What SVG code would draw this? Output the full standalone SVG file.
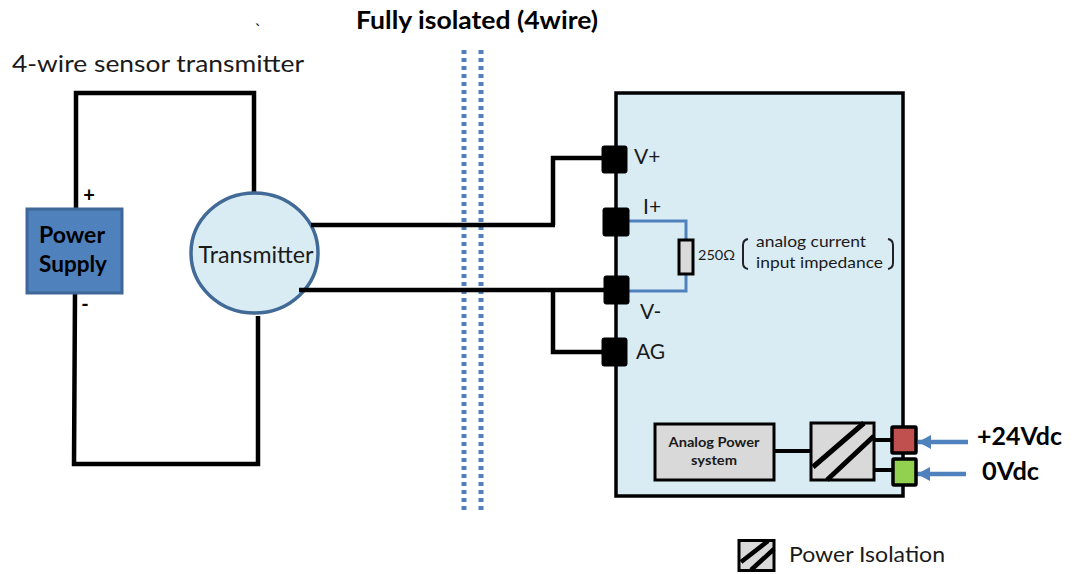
<svg xmlns="http://www.w3.org/2000/svg" width="1072" height="574" viewBox="0 0 1072 574">
<defs>
<marker id="ah" viewBox="0 0 13 14" refX="13" refY="7" markerUnits="userSpaceOnUse" markerWidth="13" markerHeight="14" orient="auto"><path d="M0 0L13 7L0 14z" fill="#4f81bd"/></marker>
</defs>
<style>
text{font-family:"Lato","Noto Sans","Liberation Sans",sans-serif;fill:#1a1a1a}
.b{font-weight:700;fill:#000}
.w{fill:none;stroke:#000;stroke-width:4.500;stroke-linejoin:miter}
.t{fill:#000;stroke:#000;stroke-width:1;}
.blue{fill:none;stroke:#4f81bd;stroke-width:3}
.dot{fill:none;stroke:#4f81bd;stroke-width:5;stroke-dasharray:4 4}
.grey{fill:#d9d9d9;stroke:#000;stroke-width:3}
</style>
<rect width="1072" height="574" fill="#fff"/>
<g id="module">
<rect x="616" y="93" width="287" height="403" fill="#daecf3" stroke="#000" stroke-width="3.500"/>
</g>
<g id="connectors">
<path class="w" d="M76 208V93H254V194"/>
<path class="w" d="M75 293L74 464H258V316"/>
<path class="w" d="M553 225V158H602"/>
<path class="w" d="M553 290V352H602"/>
<path class="blue" d="M628 221H686V240"/>
<path class="blue" d="M628 291H686V274"/>
<path d="M775 451H811" fill="none" stroke="#000" stroke-width="4"/>
<path d="M875 440H892M875 470H892" fill="none" stroke="#000" stroke-width="4"/>
<path d="M968 442H918" fill="none" stroke="#4f81bd" stroke-width="4.500" marker-end="url(#ah)"/>
<path d="M966 474H917" fill="none" stroke="#4f81bd" stroke-width="4.500" marker-end="url(#ah)"/>
</g>
<g id="isolation-barrier">
<path class="dot" d="M464 50V510"/>
<path class="dot" d="M481 50V510"/>
</g>
<g id="power-supply">
<rect x="27" y="209" width="95" height="84" fill="#4f81bd" stroke="#3f6797" stroke-width="3"/>
<text class="b" x="72" y="243" font-size="22" text-anchor="middle" textLength="66" lengthAdjust="spacingAndGlyphs">Power</text>
<text class="b" x="73" y="272" font-size="22" text-anchor="middle" textLength="68" lengthAdjust="spacingAndGlyphs">Supply</text>
</g>
<text class="b" x="89" y="202" font-size="20" text-anchor="middle">+</text>
<text class="b" x="85" y="311" font-size="20" text-anchor="middle">-</text>
<g id="transmitter">
<ellipse cx="254.500" cy="253" rx="63.500" ry="60" fill="#daecf3" stroke="#426a97" stroke-width="3.500"/>
<text x="256" y="263" font-size="24" text-anchor="middle" textLength="115" lengthAdjust="spacingAndGlyphs">Transmitter</text>
</g>
<path class="w" d="M311 225H555M299 290H604"/>
<g id="title"><text class="b" x="477" y="29" font-size="25" text-anchor="middle" textLength="242" lengthAdjust="spacingAndGlyphs">Fully isolated (4wire)</text></g>
<text x="158" y="72" font-size="24" text-anchor="middle" textLength="292" lengthAdjust="spacingAndGlyphs">4-wire sensor transmitter</text>
<text x="258" y="36" font-size="18" text-anchor="middle">`</text>
<g id="terminal-vplus"><rect class="t" x="602" y="146" width="25" height="27" rx="2"/><text x="634" y="164" font-size="21">V+</text></g>
<g id="terminal-iplus"><rect class="t" x="603" y="208" width="26" height="28" rx="2"/><text x="643" y="214" font-size="21">I+</text></g>
<g id="terminal-vminus"><rect class="t" x="604" y="276" width="25" height="28" rx="2"/><text x="640" y="319" font-size="21">V-</text></g>
<g id="terminal-ag"><rect class="t" x="602" y="338" width="25" height="28" rx="2"/><text x="636" y="359" font-size="21">AG</text></g>
<g id="resistor"><rect x="679" y="240" width="14" height="34" fill="#d9d9d9" stroke="#000" stroke-width="3"/>
<text x="698" y="260" font-size="14" textLength="37" lengthAdjust="spacingAndGlyphs">250Ω</text></g>
<g id="impedance-note">
<path d="M748 239Q743 240 743 245V263Q743 268 748 269M888 239Q893 240 893 245V263Q893 268 888 269" fill="none" stroke="#222" stroke-width="2"/>
<text x="756" y="247" font-size="16" textLength="110" lengthAdjust="spacingAndGlyphs">analog current</text>
<text x="756" y="268" font-size="16" textLength="127" lengthAdjust="spacingAndGlyphs">input impedance</text>
</g>
<g id="analog-power"><rect class="grey" x="655" y="424" width="119" height="56"/>
<text class="b" x="714" y="447" font-size="14" text-anchor="middle" textLength="91" lengthAdjust="spacingAndGlyphs" style="fill:#1a1a1a">Analog Power</text>
<text class="b" x="714" y="465" font-size="14" text-anchor="middle" textLength="46" lengthAdjust="spacingAndGlyphs" style="fill:#1a1a1a">system</text></g>
<g id="isolator"><rect class="grey" x="811" y="423" width="63" height="57"/>
<path d="M813 467L864 423M827 480L874 436" fill="none" stroke="#000" stroke-width="5"/></g>
<g id="term-24v"><rect x="892" y="427" width="24" height="26" fill="#c0504d" stroke="#000" stroke-width="3.500" rx="1"/></g>
<g id="term-0v"><rect x="893" y="459" width="23" height="26" fill="#92d050" stroke="#000" stroke-width="3.500" rx="1"/></g>
<text class="b" x="977" y="445" font-size="25" textLength="85" lengthAdjust="spacingAndGlyphs">+24Vdc</text>
<text class="b" x="982" y="480" font-size="25" textLength="57" lengthAdjust="spacingAndGlyphs">0Vdc</text>
<g id="legend"><rect class="grey" x="739" y="540.500" width="35" height="30"/>
<path d="M741 562L768 541M751 570L774 549" fill="none" stroke="#000" stroke-width="4.500"/>
<text x="789" y="562" font-size="22" textLength="156" lengthAdjust="spacingAndGlyphs">Power Isolation</text></g>
</svg>
